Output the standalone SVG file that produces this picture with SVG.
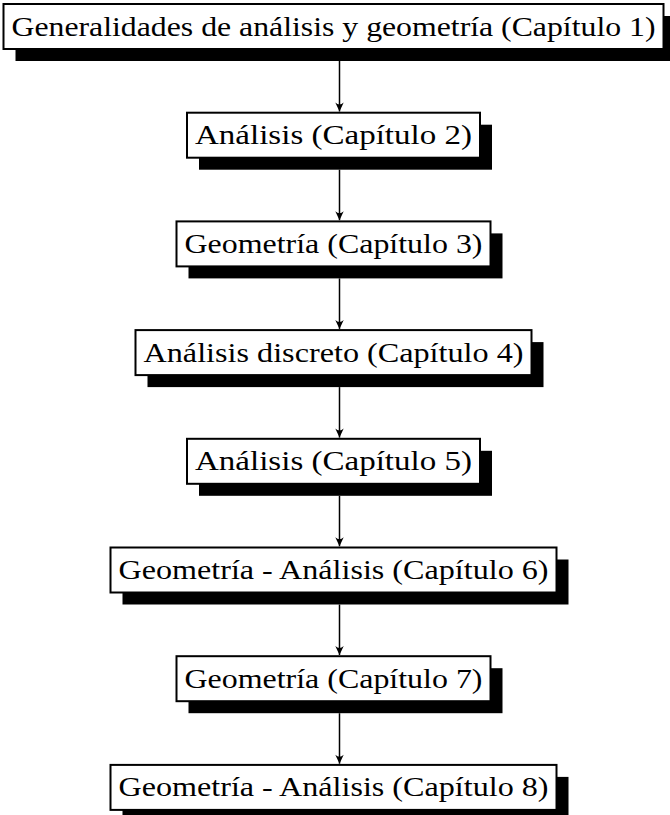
<svg xmlns="http://www.w3.org/2000/svg" width="670" height="815" viewBox="0 0 670 815">
  <style>
    .shadow { fill: #000; }
    .box { fill: #fff; stroke: #000; stroke-width: 2; }
    .label { font-family: "Liberation Serif", "DejaVu Serif", serif; font-size: 27.5px; fill: #000; text-anchor: middle; }
    .edge { stroke: #000; stroke-width: 1.5; fill: none; marker-end: url(#tip); }
  </style>
  <defs>
    <marker id="tip" markerUnits="userSpaceOnUse" markerWidth="14" markerHeight="14" refX="0" refY="0" viewBox="-11 -7 14 14" orient="auto">
      <path d="M0,0 L-9,-4.2 Q-5,0 -9,4.2 Z" fill="#000"/>
    </marker>
  </defs>

  <!-- connectors -->
  <g id="connectors">
    <line class="edge" x1="339.5" y1="61" x2="339.5" y2="111.5"/>
    <line class="edge" x1="339.5" y1="169.7" x2="339.5" y2="220.2"/>
    <line class="edge" x1="339.5" y1="278.4" x2="339.5" y2="328.9"/>
    <line class="edge" x1="339.5" y1="387.1" x2="339.5" y2="437.6"/>
    <line class="edge" x1="339.5" y1="495.8" x2="339.5" y2="546.3"/>
    <line class="edge" x1="339.5" y1="604.5" x2="339.5" y2="655"/>
    <line class="edge" x1="339.5" y1="713.2" x2="339.5" y2="763.7"/>
  </g>

  <!-- nodes: box with a solid offset shadow -->
  <g id="n1">
    <rect class="shadow" x="15.5" y="16" width="660" height="45"/>
    <rect class="box" x="3.5" y="4" width="660" height="45"/>
    <text class="label" x="333.5" y="35.5" textLength="644" lengthAdjust="spacingAndGlyphs">Generalidades de análisis y geometría (Capítulo 1)</text>
  </g>
  <g id="n2">
    <rect class="shadow" x="199" y="124.7" width="293" height="45"/>
    <rect class="box" x="187" y="112.7" width="293" height="45"/>
    <text class="label" x="333.5" y="144.2" textLength="277" lengthAdjust="spacingAndGlyphs">Análisis (Capítulo 2)</text>
  </g>
  <g id="n3">
    <rect class="shadow" x="188.5" y="233.4" width="314" height="45"/>
    <rect class="box" x="176.5" y="221.4" width="314" height="45"/>
    <text class="label" x="333.5" y="252.9" textLength="298" lengthAdjust="spacingAndGlyphs">Geometría (Capítulo 3)</text>
  </g>
  <g id="n4">
    <rect class="shadow" x="147.5" y="342.1" width="396" height="45"/>
    <rect class="box" x="135.5" y="330.1" width="396" height="45"/>
    <text class="label" x="333.5" y="361.6" textLength="380" lengthAdjust="spacingAndGlyphs">Análisis discreto (Capítulo 4)</text>
  </g>
  <g id="n5">
    <rect class="shadow" x="199" y="450.8" width="293" height="45"/>
    <rect class="box" x="187" y="438.8" width="293" height="45"/>
    <text class="label" x="333.5" y="470.3" textLength="277" lengthAdjust="spacingAndGlyphs">Análisis (Capítulo 5)</text>
  </g>
  <g id="n6">
    <rect class="shadow" x="122.5" y="559.5" width="446" height="45"/>
    <rect class="box" x="110.5" y="547.5" width="446" height="45"/>
    <text class="label" x="333.5" y="579" textLength="430" lengthAdjust="spacingAndGlyphs">Geometría - Análisis (Capítulo 6)</text>
  </g>
  <g id="n7">
    <rect class="shadow" x="188.5" y="668.2" width="314" height="45"/>
    <rect class="box" x="176.5" y="656.2" width="314" height="45"/>
    <text class="label" x="333.5" y="687.7" textLength="298" lengthAdjust="spacingAndGlyphs">Geometría (Capítulo 7)</text>
  </g>
  <g id="n8">
    <rect class="shadow" x="122.5" y="776.9" width="446" height="45"/>
    <rect class="box" x="110.5" y="764.9" width="446" height="45"/>
    <text class="label" x="333.5" y="796.4" textLength="430" lengthAdjust="spacingAndGlyphs">Geometría - Análisis (Capítulo 8)</text>
  </g>
</svg>
